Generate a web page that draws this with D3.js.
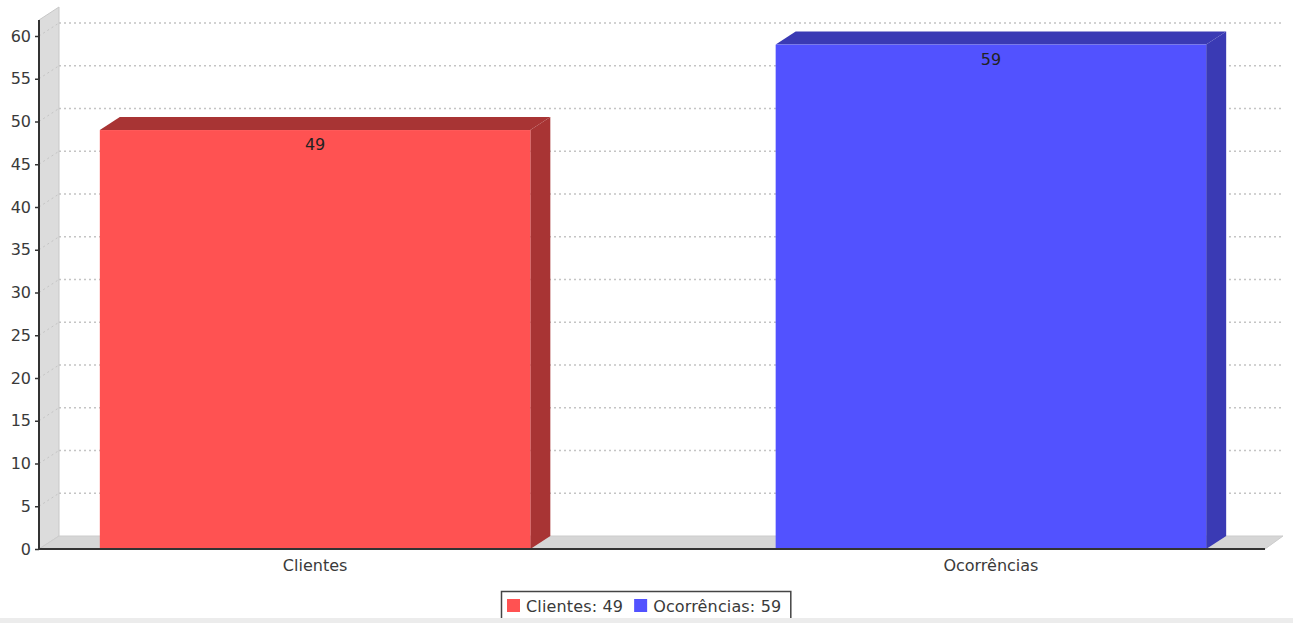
<!DOCTYPE html>
<html><head><meta charset="utf-8">
<script src="https://cdnjs.cloudflare.com/ajax/libs/d3/7.8.5/d3.min.js"></script>
<style>
html,body{margin:0;padding:0;background:#fff;}
svg{display:block;font-family:"DejaVu Sans",sans-serif;}
</style></head><body>
<svg id="c" width="1293" height="623"></svg>
<script>
const categories = ["Clientes", "Ocorrências"];
const values = [49, 59];
const frontColors = ["#ff5252", "#5252ff"];
const darkColors = ["#a83434", "#3a3ab4"];
const yTicks = [0,5,10,15,20,25,30,35,40,45,50,55,60];

const W = 1293, H = 623;
const svg = d3.select("#c");
const dx = 20, dy = -13;
const x0 = 39, x1 = 1265, yBase = 549;
const FS = 16;
const y = d3.scaleLinear().domain([0, 60]).range([yBase, 36]);
const x = d3.scaleBand().domain(categories).range([x0, x1 + 2]).paddingInner(0.363).paddingOuter(0.09);

// left wall
svg.append("polygon")
  .attr("points", [[x0, 20],[x0+dx, 20+dy],[x0+dx, yBase+dy],[x0, yBase]].map(p=>p.join(",")).join(" "))
  .attr("fill","#dcdcdc").attr("stroke","#c8c8c8");

// gridlines on back plane
yTicks.filter(v=>v>0).forEach(v=>{
  svg.append("line").attr("x1",x0+dx).attr("x2",x1+18).attr("y1",y(v)+dy).attr("y2",y(v)+dy)
    .attr("stroke","#c4c4c4").attr("stroke-width",1.5).attr("stroke-dasharray","2,3");
  svg.append("line").attr("x1",x0).attr("x2",x0+dx).attr("y1",y(v)).attr("y2",y(v)+dy)
    .attr("stroke","#c4c4c4").attr("stroke-width",1).attr("stroke-dasharray","2,3");
});

// floor
svg.append("polygon")
  .attr("points", [[x0, yBase],[x0+dx, yBase+dy],[x1+18, yBase+dy],[x1, yBase]].map(p=>p.join(",")).join(" "))
  .attr("fill","#d6d6d6").attr("stroke","#cccccc");

// bars
categories.forEach((c,i)=>{
  const bx = x(c), bw = x.bandwidth(), by = y(values[i]);
  const g = svg.append("g");
  g.append("polygon").attr("points",[[bx+bw,by],[bx+bw+dx,by+dy],[bx+bw+dx,yBase+dy],[bx+bw,yBase]].map(p=>p.join(",")).join(" "))
    .attr("fill",darkColors[i]);
  g.append("polygon").attr("points",[[bx,by],[bx+dx,by+dy],[bx+bw+dx,by+dy],[bx+bw,by]].map(p=>p.join(",")).join(" "))
    .attr("fill",darkColors[i]);
  g.append("rect").attr("x",bx).attr("y",by).attr("width",bw).attr("height",yBase-by).attr("fill",frontColors[i]);
  g.append("text").attr("x",bx+bw/2).attr("y",by+20).attr("text-anchor","middle")
    .attr("font-size",FS).attr("fill","#222").text(values[i]);
});

// axes lines
svg.append("line").attr("x1",x0).attr("x2",x0).attr("y1",20).attr("y2",yBase+1).attr("stroke","#333").attr("stroke-width",2);
svg.append("line").attr("x1",x0).attr("x2",x1).attr("y1",yBase).attr("y2",yBase).attr("stroke","#333").attr("stroke-width",2);

// y axis
const yAxis = d3.axisLeft(y).tickValues(yTicks).tickSize(4).tickPadding(4);
const ya = svg.append("g").attr("transform",`translate(${x0},0)`).call(yAxis);
ya.select(".domain").remove();
ya.selectAll(".tick line").attr("stroke","#333").attr("stroke-width",1.5);
ya.selectAll(".tick text").attr("font-size",FS).attr("fill","#3a3a3a").attr("font-family","DejaVu Sans, sans-serif");

// x axis labels
const xa = svg.append("g").attr("transform",`translate(0,${yBase})`).call(d3.axisBottom(x).tickSize(0).tickPadding(11));
xa.select(".domain").remove();
xa.selectAll(".tick text").attr("font-size",FS).attr("fill","#3a3a3a").attr("font-family","DejaVu Sans, sans-serif");

// legend
const lg = svg.append("g");
const legRect = lg.append("rect").attr("x",501.5).attr("y",591.5).attr("height",40).attr("fill","#fff").attr("stroke","#444").attr("stroke-width",1.5);
const items = categories.map((c,i)=>`${c}: ${values[i]}`);
let lx = 507;
items.forEach((t,i)=>{
  lg.append("rect").attr("x",lx).attr("y",599).attr("width",13).attr("height",13).attr("fill",frontColors[i]);
  const tx = lg.append("text").attr("x",lx+19).attr("y",612).attr("font-size",FS).attr("fill","#3a3a3a")
    .attr("letter-spacing",0.15).text(t);
  lx = lx + 19 + tx.node().getComputedTextLength() + 11;
});
legRect.attr("width", Math.max(lx - 503, 10));
svg.append("rect").attr("x",0).attr("y",618).attr("width",W).attr("height",5).attr("fill","#ececec");
</script>
</body></html>
